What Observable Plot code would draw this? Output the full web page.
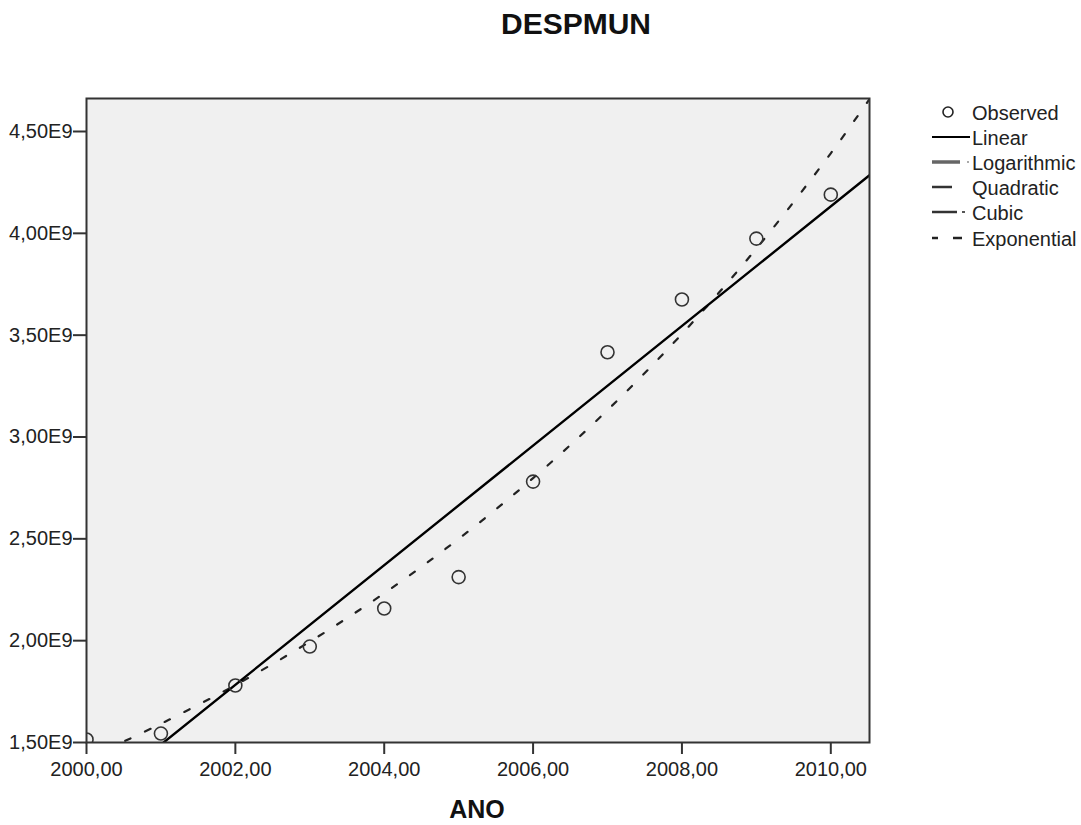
<!DOCTYPE html>
<html>
<head>
<meta charset="utf-8">
<script src="https://cdn.jsdelivr.net/npm/d3@7"></script>
<script src="https://cdn.jsdelivr.net/npm/@observablehq/plot@0.6"></script>
<style>
  html, body { margin: 0; padding: 0; background: #fff; }
  #wrap { position: relative; width: 1081px; height: 825px; overflow: hidden; font-family: "Liberation Sans", Arial, sans-serif; color: #222; }
  .title { position: absolute; top: 9px; left: 576px; transform: translateX(-50%); font-size: 30px; line-height: 30px; font-weight: bold; color: #111; white-space: nowrap; }
  .xlabel { position: absolute; top: 797px; left: 477px; transform: translateX(-50%); font-size: 25px; line-height: 25px; font-weight: bold; color: #111; white-space: nowrap; }
  #legend { position: absolute; left: 0; top: 0; pointer-events: none; }
</style>
</head>
<body>
<div id="wrap">
  <div id="chart"></div>
  <div class="title">DESPMUN</div>
  <div class="xlabel">ANO</div>
</div>
<script>
const years = [2000, 2001, 2002, 2003, 2004, 2005, 2006, 2007, 2008, 2009, 2010];
const observed = [1.515e9, 1.544e9, 1.78e9, 1.971e9, 2.158e9, 2.312e9, 2.781e9, 3.416e9, 3.675e9, 3.974e9, 4.19e9];

// Linear fit line, end points
const linearYears = [2000, 2010.52];
const linearValues = [1.196e9, 4.285e9];

// Exponential fit curve
const expYears = [2000.52, 2001, 2002, 2003, 2004, 2005, 2006, 2007, 2008, 2009, 2010, 2010.52];
const expValues = [1.508e9, 1.592e9, 1.782e9, 1.995e9, 2.233e9, 2.5e9, 2.798e9, 3.132e9, 3.506e9, 3.925e9, 4.393e9, 4.659e9];

// Ticks and tick labels
const xTicks = [2000, 2002, 2004, 2006, 2008, 2010];
const xTickLabels = ["2000,00", "2002,00", "2004,00", "2006,00", "2008,00", "2010,00"];
const yTicks = [1.5e9, 2.0e9, 2.5e9, 3.0e9, 3.5e9, 4.0e9, 4.5e9];
const yTickLabels = ["1,50E9", "2,00E9", "2,50E9", "3,00E9", "3,50E9", "4,00E9", "4,50E9"];

// Legend entries
const legendLabels = ["Observed", "Linear", "Logarithmic", "Quadratic", "Cubic", "Exponential"];

const obsData = years.map((x, i) => ({x, y: observed[i]}));
const linData = linearYears.map((x, i) => ({x, y: linearValues[i]}));
const expData = expYears.map((x, i) => ({x, y: expValues[i]}));

const chart = Plot.plot({
  width: 1081,
  height: 825,
  marginLeft: 86,
  marginRight: 212,
  marginTop: 98,
  marginBottom: 83,
  style: { fontFamily: "'Liberation Sans', Arial, sans-serif", fontSize: "20px", color: "#222", background: "transparent" },
  x: { domain: [2000, 2010.52], label: null },
  y: { domain: [1.5e9, 4.662e9], label: null },
  marks: [
    Plot.frame({ fill: "#f0f0f0" }),
    Plot.line(expData, { x: "x", y: "y", stroke: "#222", strokeWidth: 2.2, strokeDasharray: "6,16", curve: "catmull-rom", clip: true }),
    Plot.line(linData, { x: "x", y: "y", stroke: "#000", strokeWidth: 2.4, clip: true }),
    Plot.dot(obsData, { x: "x", y: "y", r: 6.5, stroke: "#333", strokeWidth: 1.6, fill: "none", clip: true }),
    Plot.frame({ stroke: "#333", strokeWidth: 2 }),
    Plot.axisX({ ticks: xTicks, tickFormat: d => xTickLabels[xTicks.indexOf(d)], tickSize: 12, tickPadding: 7, fontSize: 20, stroke: "#333", strokeWidth: 2, fill: "#222", label: null }),
    Plot.axisY({ ticks: yTicks, tickFormat: d => yTickLabels[yTicks.indexOf(d)], tickSize: 13, tickPadding: 1, fontSize: 20, stroke: "#333", strokeWidth: 2, fill: "#222", label: null })
  ]
});
document.getElementById("chart").appendChild(chart);

// Legend
const svg = d3.select("#wrap").append("svg")
  .attr("id", "legend").attr("width", 1081).attr("height", 825);
const baselines = [120, 145, 170, 195, 220, 246];
const g = svg.append("g");
legendLabels.forEach((lab, i) => {
  const cy = baselines[i] - 8;
  g.append("text").attr("x", 972).attr("y", baselines[i])
    .attr("font-family", "'Liberation Sans', Arial, sans-serif").attr("font-size", 20).attr("fill", "#222").text(lab);
  if (lab === "Observed") {
    g.append("circle").attr("cx", 948).attr("cy", cy).attr("r", 5).attr("fill", "none").attr("stroke", "#222").attr("stroke-width", 1.6);
  } else if (lab === "Linear") {
    g.append("line").attr("x1", 932).attr("x2", 970).attr("y1", cy).attr("y2", cy).attr("stroke", "#000").attr("stroke-width", 2);
  } else if (lab === "Logarithmic") {
    g.append("line").attr("x1", 932).attr("x2", 960).attr("y1", cy).attr("y2", cy).attr("stroke", "#666").attr("stroke-width", 3.5);
    g.append("rect").attr("x", 967).attr("y", cy - 1).attr("width", 2).attr("height", 2).attr("fill", "#aaa");
  } else if (lab === "Quadratic") {
    g.append("line").attr("x1", 932).attr("x2", 952).attr("y1", cy).attr("y2", cy).attr("stroke", "#333").attr("stroke-width", 2.5);
  } else if (lab === "Cubic") {
    g.append("line").attr("x1", 932).attr("x2", 957).attr("y1", cy).attr("y2", cy).attr("stroke", "#333").attr("stroke-width", 2.5);
    g.append("rect").attr("x", 962).attr("y", cy - 1).attr("width", 3).attr("height", 2).attr("fill", "#555");
  } else if (lab === "Exponential") {
    g.append("line").attr("x1", 932).attr("x2", 938).attr("y1", cy).attr("y2", cy).attr("stroke", "#222").attr("stroke-width", 2.5);
    g.append("line").attr("x1", 953).attr("x2", 962).attr("y1", cy).attr("y2", cy).attr("stroke", "#222").attr("stroke-width", 2.5);
  }
});
</script>
</body>
</html>
